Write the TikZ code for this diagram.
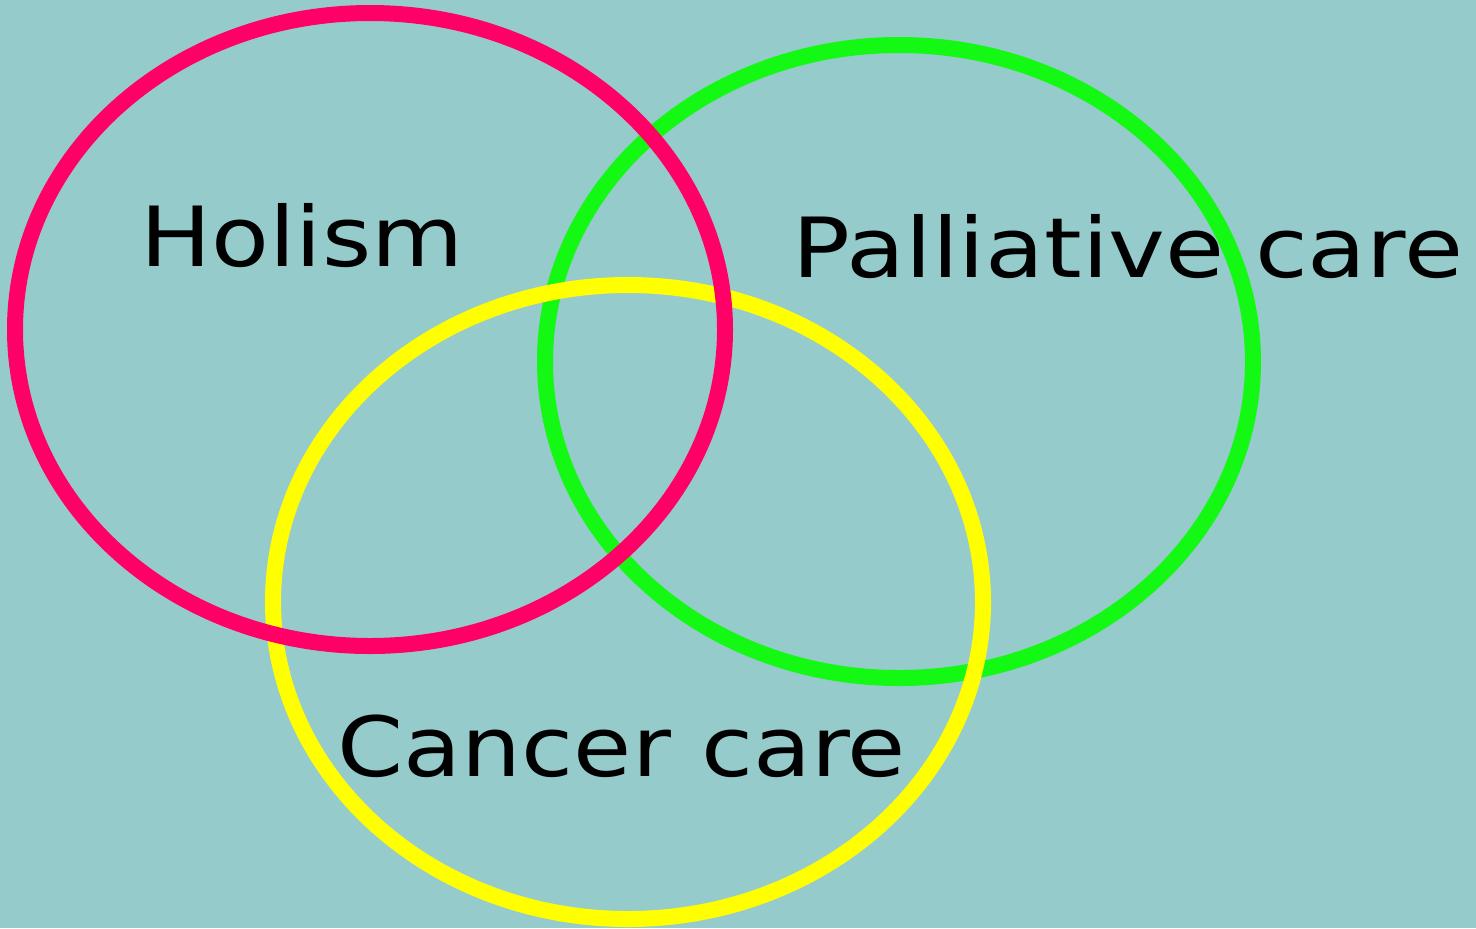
\documentclass[tikz,border=0pt]{standalone}
\usepackage{fontspec}
\setmainfont{DejaVu Sans}
\usepackage{tikz}

\definecolor{bgteal}{HTML}{96CBCC}
\definecolor{holismred}{HTML}{FF0066}
\definecolor{palliativegreen}{HTML}{14F914}
\definecolor{canceryellow}{HTML}{FFFF00}

\tikzset{
  ring/.style={line width=8pt},
  label/.style={anchor=base, inner sep=0pt, xscale=1.14,
    font=\fontsize{41.5}{50}\selectfont}
}

\begin{document}
\begin{tikzpicture}[x=0.5pt, y=-0.5pt]
      \useasboundingbox (0, 0) rectangle (1476, 928);
      \fill[bgteal] (0, 0) rectangle (1476, 928);
      \draw[ring, palliativegreen] (899, 361.5) ellipse [x radius=177pt, y radius=158.25pt];
      \draw[ring, canceryellow] (628, 602) ellipse [x radius=177.5pt, y radius=158.5pt];
      \draw[ring, holismred] (370, 329.5) ellipse [x radius=177.5pt, y radius=158.25pt];
      \node[label] (holism) at (302, 266) {Holism};
      \node[label, xscale=1.015] (palliative) at (1128, 277) {Palliative care};
      \node[label] (cancer) at (622, 776) {Cancer care};
    \end{tikzpicture}
\end{document}
